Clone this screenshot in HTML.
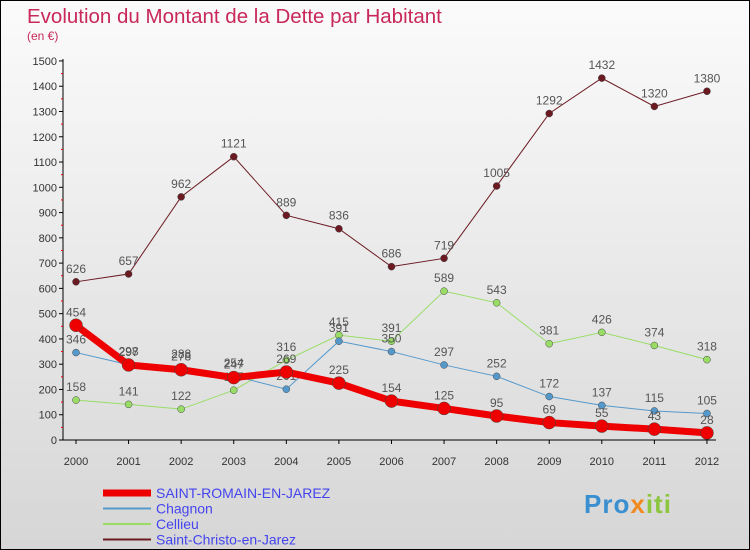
<!DOCTYPE html>
<html><head><meta charset="utf-8"><style>
body{margin:0;width:750px;height:550px;overflow:hidden;font-family:"Liberation Sans",sans-serif}
#wrap{position:relative;width:748px;height:548px;border:1px solid #000;background:linear-gradient(#fbfbfb,#d6d6d6)}
.t{position:absolute;color:#c8285a}
</style></head><body>
<div id="wrap">
<div class="t" style="left:26px;top:4px;font-size:20.5px">Evolution du Montant de la Dette par Habitant</div>
<div class="t" style="left:26px;top:28px;font-size:12px">(en €)</div>
<svg id="svg" width="748" height="548" style="position:absolute;left:0;top:0"></svg>
<div style="position:absolute;left:583px;top:488px;font-size:26px;font-weight:bold;letter-spacing:1px"><span style="color:#3a8fd0">Pro</span><span style="color:#f08a20">x</span><span style="color:#8cc63f">iti</span></div>
</div>
<script>
const years=[2000,2001,2002,2003,2004,2005,2006,2007,2008,2009,2010,2011,2012];
const yTicks=[0,100,200,300,400,500,600,700,800,900,1000,1100,1200,1300,1400,1500];
const saintRomain=[454,297,278,247,269,225,154,125,95,69,55,43,28];
const chagnon=[346,298,288,254,201,391,350,297,252,172,137,115,105];
const cellieu=[158,141,122,197,316,415,391,589,543,381,426,374,318];
const saintChristo=[626,657,962,1121,889,836,686,719,1005,1292,1432,1320,1380];
const seriesNames=["SAINT-ROMAIN-EN-JAREZ","Chagnon","Cellieu","Saint-Christo-en-Jarez"];
const NS="http://www.w3.org/2000/svg",svg=document.getElementById('svg');
const x=i=>75+i*52.58, y=v=>439-v*0.2527;
function el(t,a,p){const e=document.createElementNS(NS,t);for(const k in a)e.setAttribute(k,a[k]);(p||svg).appendChild(e);return e;}
let ax=el('line',{x1:62,y1:58,x2:62,y2:439,stroke:'#000'});


let bx=el('line',{x1:62,y1:439,x2:715,y2:439,stroke:'#000'});


yTicks.forEach((v,k)=>{
 el('line',{x1:58,x2:62,y1:y(v),y2:y(v),stroke:'#000'});
 if(k<yTicks.length-1) el('line',{x1:60,x2:62,y1:y(v+50),y2:y(v+50),stroke:'#e00'});
 const t=el('text',{x:56,y:y(v)+4,'text-anchor':'end','font-size':11,fill:'#333'});t.textContent=v;
 
 
});
years.forEach((yr,i)=>{
 el('line',{x1:x(i),x2:x(i),y1:439,y2:443,stroke:'#000'});
 const t=el('text',{x:x(i),y:464,'text-anchor':'middle','font-size':11,fill:'#333'});t.textContent=yr;
 
 
});
const series=[
 {d:saintChristo,c:'#6b1a22',w:1,r:3.5,n:'saint-christo'},
 {d:cellieu,c:'#99dd66',w:1,r:3.5,n:'cellieu'},
 {d:chagnon,c:'#5599cc',w:1,r:3.5,n:'chagnon'},
 {d:saintRomain,c:'#ee0000',w:7,r:6.5,n:'saint-romain'}];
series.forEach(s=>{
 const p=el('polyline',{points:s.d.map((v,i)=>x(i)+','+y(v)).join(' '),fill:'none',stroke:s.c,'stroke-width':s.w});
 
 
 s.d.forEach((v,i)=>{
  const c=el('circle',{cx:x(i),cy:y(v),r:s.r,fill:s.c,stroke:'#444','stroke-width':0.5});
  
  
  const t=el('text',{x:x(i),y:y(v)-9,'text-anchor':'middle','font-size':12,fill:'#555'});t.textContent=v;
  
  
 });
});
const lc=['#ee0000','#5599cc','#99dd66','#6b1a22'],lw=[7,2,2,2];
seriesNames.forEach((n,i)=>{
 const yy=492+i*15.5;
 el('line',{x1:102,x2:150,y1:yy,y2:yy,stroke:lc[i],'stroke-width':lw[i]});
 const t=el('text',{x:155,y:yy+5,'font-size':14,fill:'#4444ee'});t.textContent=n;
 
 
});
</script>
</body></html>
